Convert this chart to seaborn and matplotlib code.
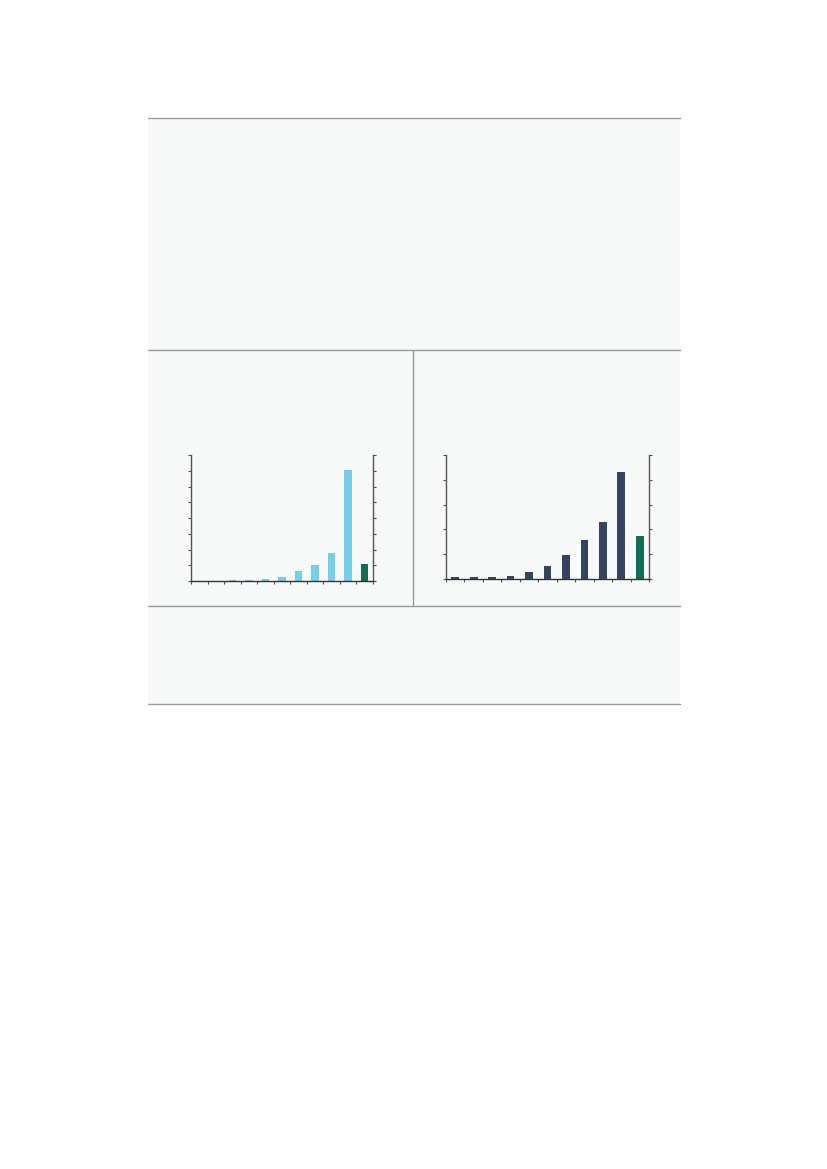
import numpy as np
import pandas as pd
import matplotlib
matplotlib.use("Agg")
import matplotlib.pyplot as plt
from matplotlib.lines import Line2D
from matplotlib.patches import Rectangle
import seaborn as sns

# Data (no labels shown in the picture)
categories = [str(i) for i in range(1, 12)]
left_values = [0.01, 0.02, 0.06, 0.06, 0.13, 0.27, 0.61, 1.03, 1.77, 7.05, 1.10]
right_values = [0.09, 0.07, 0.07, 0.13, 0.28, 0.52, 0.97, 1.58, 2.31, 4.32, 1.72]
left_colors = ["#75cfea"] * 10 + ["#0f6e55"]
right_colors = ["#34465f"] * 10 + ["#0f6e55"]

sns.set_style("white")

W, H = 827, 1169
fig = plt.figure(figsize=(W / 100, H / 100), dpi=100)
fig.patch.set_facecolor("white")

def fx(px):
    return px / W

def fy(py):
    return 1 - py / H

# background panel
fig.add_artist(Rectangle((fx(148), fy(704)), fx(680) - fx(148), fy(118) - fy(704),
                         transform=fig.transFigure, facecolor="#f8f9f9", edgecolor="none", zorder=0))
line_kw = dict(transform=fig.transFigure, color="#9a9a9a", linewidth=1.0, zorder=1)
for yy in [118, 350, 606, 704]:
    fig.add_artist(Line2D([fx(148), fx(680)], [fy(yy), fy(yy)], **line_kw))
fig.add_artist(Line2D([fx(413), fx(413)], [fy(350), fy(606)], **line_kw))


def bar_panel(rect, values, colors, ymax, nticks, width):
    ax = fig.add_axes(rect)
    df = pd.DataFrame({"cat": categories, "val": values})
    sns.barplot(data=df, x="cat", y="val", hue="cat", palette=colors, legend=False,
                width=width, ax=ax, saturation=1, edgecolor="none")
    ax.set_facecolor("none")
    ax.set_xlim(-0.5, len(categories) - 0.5)
    ax.set_ylim(0, ymax)
    ax.set_xticks(np.arange(-0.5, len(categories), 1.0))
    ax.set_yticks(np.linspace(0, ymax, nticks))
    ax.set_xticklabels([])
    ax.set_yticklabels([])
    ax.set_xlabel("")
    ax.set_ylabel("")
    for s in ["top"]:
        ax.spines[s].set_visible(False)
    ax.spines["left"].set_color("#555555")
    ax.spines["right"].set_color("#555555")
    ax.spines["bottom"].set_color("#333333")
    for s in ["left", "right", "bottom"]:
        ax.spines[s].set_linewidth(1.0)
    ax.tick_params(axis="both", which="both", direction="out", length=2, width=0.8,
                   color="#555555", left=True, right=True, bottom=True)
    return ax


bar_panel([fx(191), fy(581), fx(373) - fx(191), fy(455) - fy(581)],
          left_values, left_colors, 8, 9, 0.45)
bar_panel([fx(446), fy(579), fx(649) - fx(446), fy(455) - fy(579)],
          right_values, right_colors, 5, 6, 0.42)

fig.savefig("out.png", dpi=100, facecolor="white")
